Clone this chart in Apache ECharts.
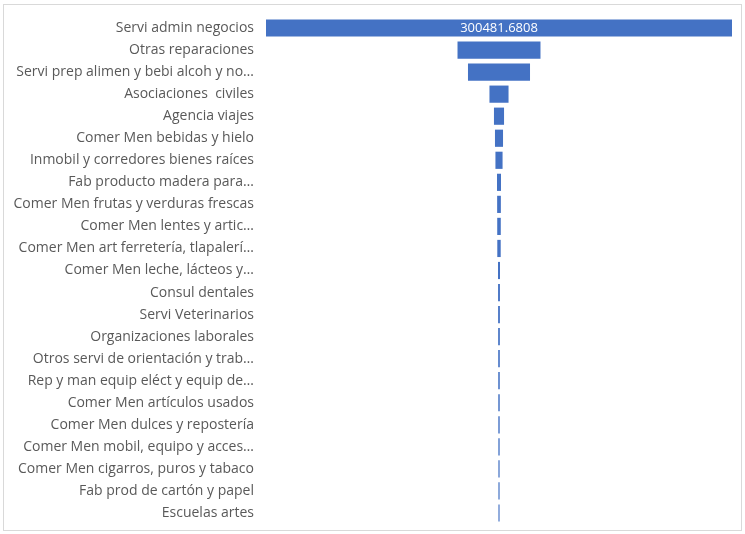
<!DOCTYPE html>
<html><head><meta charset="utf-8">
<script src="https://cdn.jsdelivr.net/npm/echarts@6/dist/echarts.min.js"></script>
<style>
html,body{margin:0;padding:0;background:#fff;}
#frame{position:absolute;left:3px;top:4px;width:737px;height:525px;border:1px solid #d9d9d9;}
#c{position:absolute;left:0;top:0;width:745px;height:534px;}
</style></head>
<body><div id="frame"></div><div id="c"></div>
<script>
const categories = [
  "Servi admin negocios",
  "Otras reparaciones",
  "Servi prep alimen y bebi alcoh y no…",
  "Asociaciones  civiles",
  "Agencia viajes",
  "Comer Men bebidas y hielo",
  "Inmobil y corredores bienes raíces",
  "Fab producto madera para…",
  "Comer Men frutas y verduras frescas",
  "Comer Men lentes y artic…",
  "Comer Men art ferretería, tlapalerí…",
  "Comer Men leche, lácteos y…",
  "Consul dentales",
  "Servi Veterinarios",
  "Organizaciones laborales",
  "Otros servi de orientación y trab…",
  "Rep y man equip eléct y equip de…",
  "Comer Men artículos usados",
  "Comer Men dulces y repostería",
  "Comer Men mobil, equipo y acces…",
  "Comer Men cigarros, puros y tabaco",
  "Fab prod de cartón y papel",
  "Escuelas artes"
];
const values = [300481.6808, 53500, 40000, 12300, 6500, 5200, 4600, 2600, 2400, 2300, 2200,
  1300, 1200, 1150, 1100, 1050, 1000, 950, 900, 850, 800, 780, 750];
const maxV = Math.max(...values);
const offsets = values.map(v => (maxV - v) / 2);

const chart = echarts.init(document.getElementById('c'));
chart.setOption({
  animation: false,
  grid: { left: 266, right: 13, top: 17, bottom: 10, containLabel: false },
  xAxis: { type: 'value', min: 0, max: maxV, show: false },
  yAxis: {
    type: 'category', data: categories, inverse: true,
    axisLine: { show: false }, axisTick: { show: false },
    axisLabel: { color: '#595959', fontSize: 14, fontFamily: 'Open Sans', margin: 12 }
  },
  series: [
    { type: 'bar', stack: 'f', data: offsets, itemStyle: { color: 'transparent' },
      barCategoryGap: '22%', silent: true },
    { type: 'bar', stack: 'f', data: values, itemStyle: { color: '#4472c4' },
      barCategoryGap: '22%',
      label: { show: true, position: 'inside', color: '#fff', fontSize: 13, fontFamily: 'Open Sans',
        formatter: p => p.dataIndex === 0 ? String(p.value) : '' } }
  ]
});
</script></body></html>
